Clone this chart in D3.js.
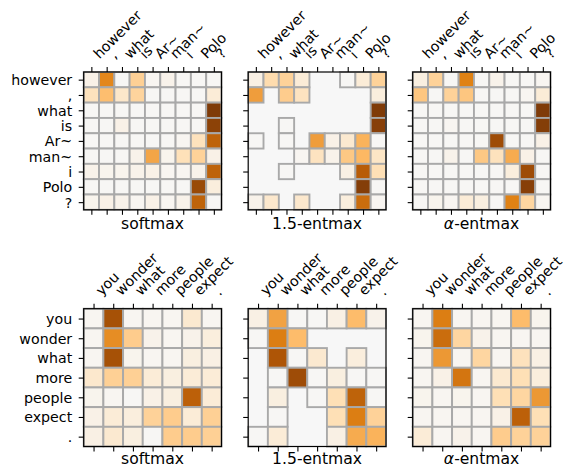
<!DOCTYPE html>
<html>
<head>
<meta charset="utf-8">
<script src="https://cdn.jsdelivr.net/npm/d3@7"></script>
<style>
  body { margin: 0; background: #fff; }
  text { font-family: "DejaVu Sans", sans-serif; fill: #000; }
</style>
</head>
<body>
<svg></svg>
<script>
// Step 1: the data
//------------------------------------------
var topTokens = ["however", ",", "what", "is", "Ar~", "man~", "i", "Polo", "?"];
var bottomTokens = ["you", "wonder", "what", "more", "people", "expect", "."];
var titles = ["softmax", "1.5-entmax", "α-entmax"];

// attention weights, rows = query token, cols = key token
// a 0 means the weight is exactly zero (cell not drawn)
var topSoftmax = [
  [0.05, 0.58, 0.01, 0.28, 0.02, 0.04, 0.01, 0.01, 0.01],
  [0.18, 0.37, 0.14, 0.26, 0.01, 0.01, 0.01, 0.01, 0.10],
  [0.01, 0.01, 0.01, 0.01, 0.01, 0.01, 0.01, 0.01, 1.00],
  [0.01, 0.01, 0.05, 0.01, 0.01, 0.01, 0.01, 0.01, 0.95],
  [0.01, 0.01, 0.01, 0.01, 0.01, 0.01, 0.02, 0.18, 0.75],
  [0.01, 0.01, 0.01, 0.04, 0.47, 0.03, 0.19, 0.27, 0.05],
  [0.04, 0.03, 0.03, 0.04, 0.05, 0.02, 0.02, 0.04, 0.75],
  [0.01, 0.01, 0.01, 0.01, 0.01, 0.01, 0.01, 0.90, 0.08],
  [0.03, 0.05, 0.04, 0.02, 0.05, 0.02, 0.04, 0.75, 0.01]
];
var topEntmax15 = [
  [0.06, 0.22, 0.27, 0.10, 0, 0, 0.01, 0.10, 0.27],
  [0.50, 0, 0.30, 0.17, 0, 0, 0, 0, 0.08],
  [0, 0, 0, 0, 0, 0, 0, 0, 1.00],
  [0, 0, 0.01, 0, 0, 0, 0, 0, 0.97],
  [0.01, 0, 0.01, 0, 0.50, 0.05, 0.12, 0.42, 0.01],
  [0, 0, 0, 0.02, 0.17, 0.04, 0.32, 0.40, 0.15],
  [0, 0, 0.01, 0, 0, 0, 0.06, 0.78, 0.20],
  [0, 0, 0, 0, 0, 0, 0, 0.98, 0.01],
  [0.04, 0.13, 0, 0.13, 0, 0, 0.08, 0.70, 0.02]
];
var topEntmaxA = [
  [0.07, 0.27, 0.01, 0.60, 0.01, 0.04, 0.01, 0.01, 0.02],
  [0.33, 0.01, 0.27, 0.33, 0.01, 0.01, 0.01, 0.02, 0.10],
  [0.01, 0.01, 0.01, 0.01, 0.01, 0.01, 0.01, 0.01, 1.00],
  [0.01, 0.01, 0.02, 0.01, 0.01, 0.01, 0.01, 0.01, 0.98],
  [0.01, 0.01, 0.01, 0.01, 0.01, 0.88, 0.01, 0.01, 0.05],
  [0.01, 0.01, 0.04, 0.01, 0.32, 0.18, 0.45, 0.05, 0.01],
  [0.01, 0.01, 0.01, 0.01, 0.01, 0.01, 0.08, 0.88, 0.01],
  [0.01, 0.01, 0.01, 0.01, 0.01, 0.01, 0.01, 0.97, 0.01],
  [0.01, 0.03, 0.02, 0.10, 0.07, 0.01, 0.60, 0.25, 0.02]
];
var bottomSoftmax = [
  [0.02, 0.85, 0.02, 0.02, 0.02, 0.12, 0.02],
  [0.02, 0.56, 0.30, 0.04, 0.02, 0.04, 0.08],
  [0.02, 0.85, 0.03, 0.02, 0.02, 0.07, 0.06],
  [0.13, 0.28, 0.28, 0.10, 0.07, 0.10, 0.10],
  [0.03, 0.02, 0.01, 0.05, 0.07, 0.76, 0.10],
  [0.05, 0.10, 0.08, 0.27, 0.30, 0.10, 0.28],
  [0.06, 0.12, 0.07, 0.01, 0.30, 0.30, 0.28]
];
var bottomEntmax15 = [
  [0.06, 0.48, 0.01, 0.01, 0.06, 0.38, 0.04],
  [0.01, 0.62, 0.38, 0, 0, 0, 0],
  [0, 0.82, 0.01, 0.12, 0, 0.08, 0],
  [0, 0.01, 0.88, 0.01, 0.07, 0.01, 0.01],
  [0, 0.07, 0, 0.01, 0.20, 0.75, 0.01],
  [0, 0.01, 0, 0, 0.20, 0.62, 0.27],
  [0.01, 0.10, 0, 0, 0.06, 0.45, 0.42]
];
var bottomEntmaxA = [
  [0.02, 0.62, 0.02, 0.02, 0.02, 0.38, 0.03],
  [0.03, 0.70, 0.25, 0.04, 0.02, 0.02, 0.02],
  [0.02, 0.52, 0.02, 0.25, 0.02, 0.18, 0.06],
  [0.02, 0.05, 0.66, 0.02, 0.12, 0.20, 0.08],
  [0.03, 0.02, 0.03, 0.02, 0.20, 0.25, 0.52],
  [0.02, 0.02, 0.02, 0.02, 0.05, 0.76, 0.20],
  [0.10, 0.02, 0.04, 0.02, 0.30, 0.27, 0.27]
];

// Step 2: set up the figure
//------------------------------------------
var svgWidth = 565;
var svgHeight = 466;
var size = 137.8;             // each heatmap is square
var colX = [83.7, 248.2, 412.7];
var rowY = [72, 308.7];
var titleGap = [19.5, 17.8];
var tickLen = 5;

var svg = d3.select("svg")
    .attr("width", svgWidth)
    .attr("height", svgHeight);

svg.append("rect")
    .attr("width", svgWidth)
    .attr("height", svgHeight)
    .attr("fill", "#fff");

// orange half of the PuOr map: 0 -> light grey, 1 -> dark brown
var color = d3.scaleLinear()
    .domain([0, 0.2, 0.4, 0.6, 0.8, 1])
    .range(d3.schemePuOr[11].slice(5))
    .clamp(true);

var panels = [
  { tokens: topTokens, values: topSoftmax, col: 0, row: 0 },
  { tokens: topTokens, values: topEntmax15, col: 1, row: 0 },
  { tokens: topTokens, values: topEntmaxA, col: 2, row: 0 },
  { tokens: bottomTokens, values: bottomSoftmax, col: 0, row: 1 },
  { tokens: bottomTokens, values: bottomEntmax15, col: 1, row: 1 },
  { tokens: bottomTokens, values: bottomEntmaxA, col: 2, row: 1 }
];

// Step 3: draw each heatmap
//------------------------------------------
panels.forEach(function(p) {
    var g = svg.append("g")
        .attr("transform", `translate(${colX[p.col]},${rowY[p.row]})`);

    var x = d3.scaleBand().domain(d3.range(p.tokens.length)).range([0, size]);
    var y = d3.scaleBand().domain(d3.range(p.tokens.length)).range([0, size]);

    // background shows where the weight is exactly zero
    g.append("rect")
        .attr("width", size)
        .attr("height", size)
        .attr("fill", color(0));

    var cells = [];
    p.values.forEach(function(row, i) {
        row.forEach(function(v, j) {
            if (v > 0) cells.push({ i: i, j: j, v: v });
        });
    });

    g.selectAll(".cell")
        .data(cells)
        .enter()
        .append("rect")
        .attr("class", "cell")
        .attr("x", d => x(d.j))
        .attr("y", d => y(d.i))
        .attr("width", x.bandwidth())
        .attr("height", y.bandwidth())
        .attr("fill", d => color(d.v))
        .attr("stroke", "#a9a9a9")
        .attr("stroke-width", 1.9);

    // axes: ticks at cell centres
    var xTicks = d3.scalePoint().domain(p.tokens).range([x.bandwidth() / 2, size - x.bandwidth() / 2]);
    var yTicks = d3.scalePoint().domain(p.tokens).range([y.bandwidth() / 2, size - y.bandwidth() / 2]);

    var topAxis = g.append("g")
        .call(d3.axisTop(xTicks).tickSizeOuter(0).tickSizeInner(tickLen).tickFormat(""));
    g.append("g")
        .attr("transform", `translate(0,${size})`)
        .call(d3.axisBottom(xTicks).tickSizeOuter(0).tickSizeInner(tickLen).tickFormat(""));
    var leftAxis = g.append("g")
        .call(d3.axisLeft(yTicks).tickSizeOuter(0).tickSizeInner(tickLen)
            .tickFormat(p.col === 0 ? (d => d) : ""));

    g.selectAll(".domain").remove();
    g.selectAll(".tick line").attr("stroke", "#000").attr("stroke-width", 1.1);

    leftAxis.selectAll("text")
        .attr("x", -11.5)
        .attr("dy", "0.35em")
        .style("font-size", "14.2px")
        .style("font-family", "DejaVu Sans");

    // rotated token labels above the map
    topAxis.selectAll(".tick text").remove();
    topAxis.selectAll(".tick")
        .append("text")
        .attr("transform", "translate(7.6,-12.4) rotate(-45)")
        .attr("text-anchor", "start")
        .attr("fill", "#000")
        .style("font-size", "14.2px")
        .style("font-family", "DejaVu Sans")
        .text(d => d);

    // frame
    g.append("rect")
        .attr("width", size)
        .attr("height", size)
        .attr("fill", "none")
        .attr("stroke", "#000")
        .attr("stroke-width", 1.2);

    // title under the map
    var t = g.append("text")
        .attr("x", size / 2)
        .attr("y", size + titleGap[p.row])
        .attr("text-anchor", "middle")
        .style("font-size", "15.6px");
    var title = titles[p.col];
    if (title.charAt(0) === "α") {
        t.append("tspan").style("font-style", "italic").text("α");
        t.append("tspan").text(title.slice(1));
    } else {
        t.text(title);
    }
});
</script>
</body>
</html>
